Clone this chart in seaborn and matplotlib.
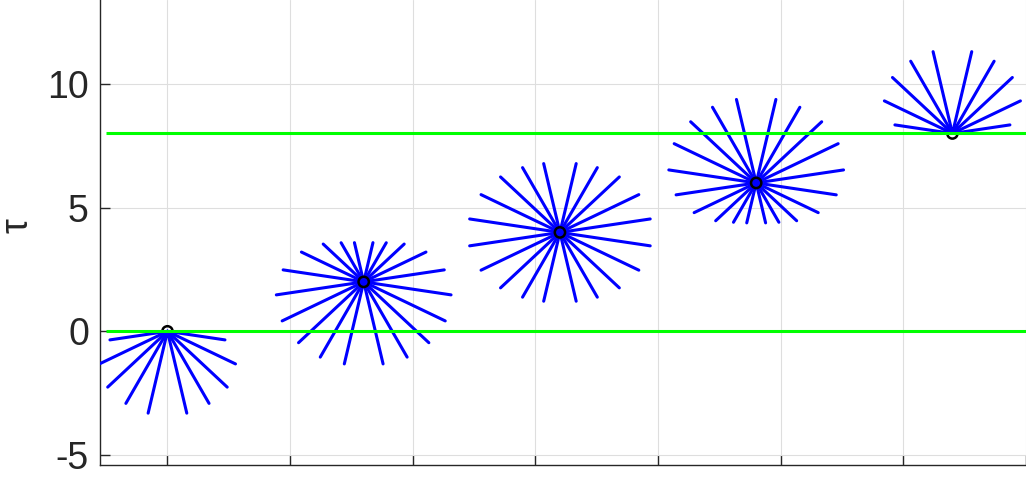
import numpy as np
import pandas as pd
import matplotlib
matplotlib.use("Agg")
import matplotlib.pyplot as plt
import seaborn as sns

# ---- data ----
star_x = [0, 8, 16, 24, 32]          # horizontal position of each star centre
star_tau = [0, 2, 4, 6, 8]           # tau value of each star centre
ray_angles_deg = [8.4, 25.4, 42.8, 59.8, 76.6]   # ray directions (first quadrant, mirrored)
upper_lengths = [
    [0, 0, 0, 0, 0],
    [3.32, 2.81, 2.25, 1.83, 1.63],
    [3.72, 3.56, 3.30, 3.03, 2.86],
    [3.60, 3.70, 3.64, 3.54, 3.47],
    [2.37, 3.07, 3.33, 3.38, 3.40],
]
lower_lengths = [
    [2.37, 3.07, 3.32, 3.37, 3.40],
    [3.60, 3.68, 3.62, 3.52, 3.41],
    [3.72, 3.56, 3.30, 3.03, 2.86],
    [3.30, 2.80, 2.25, 1.84, 1.66],
    [0, 0, 0, 0, 0],
]
bound_levels = [0, 8]
y_ticks = [-5, 0, 5, 10]
x_ticks = [0, 5, 10, 15, 20, 25, 30, 35]

# ---- build ray segments ----
rows = []
rid = 0
for i, (cx, cy) in enumerate(zip(star_x, star_tau)):
    for half, lens in ((1, upper_lengths[i]), (-1, lower_lengths[i])):
        for ang, L in zip(ray_angles_deg, lens):
            if L <= 0:
                continue
            a = np.deg2rad(ang)
            for side in (1, -1):
                rows.append(dict(ray=rid, x=cx, y=cy))
                rows.append(dict(ray=rid, x=cx + side * L * np.cos(a),
                                 y=cy + half * L * np.sin(a)))
                rid += 1
rays = pd.DataFrame(rows)
centres = pd.DataFrame(dict(x=star_x, tau=star_tau))

sns.set_theme(style="white")
plt.rcParams["font.family"] = ["Liberation Sans", "DejaVu Sans"]
plt.rcParams["axes.unicode_minus"] = False

fig = plt.figure(figsize=(10.26, 4.78), dpi=100)
ax = fig.add_axes([100 / 1026, 13 / 478, 926 / 1026, 465 / 478])

sns.lineplot(data=rays, x="x", y="y", units="ray", estimator=None, sort=False,
             color=(0, 0, 1), linewidth=2.2, ax=ax, zorder=3, legend=False)

inner = centres.iloc[1:4]
outer = centres.iloc[[0, 4]]
sns.scatterplot(data=outer, x="x", y="tau", s=55, facecolor="none",
                edgecolor="black", linewidth=1.8, ax=ax, zorder=2)
sns.scatterplot(data=inner, x="x", y="tau", s=55, facecolor="none",
                edgecolor="black", linewidth=1.8, ax=ax, zorder=4)

for lvl in bound_levels:
    ax.hlines(lvl, -2.5, 40, color=(0, 1, 0), linewidth=2.2, zorder=5)

ax.set_xlim(-2.75, 34.75)
ax.set_ylim(-5.404, 13.396)
ax.set_xticks(x_ticks)
ax.set_xticklabels([])
ax.set_yticks(y_ticks)
ax.set_yticklabels([str(v) for v in y_ticks])

ax.grid(True, color="#dedede", linewidth=0.8)
ax.set_axisbelow(True)
for s in ("top", "right"):
    ax.spines[s].set_visible(False)
for s in ("left", "bottom"):
    ax.spines[s].set_color("#262626")
    ax.spines[s].set_linewidth(1.0)
ax.tick_params(axis="both", which="major", direction="in", length=7, width=1.0,
               color="#262626", labelcolor="#262626", labelsize=27,
               bottom=True, left=True, top=False, right=False)
ax.tick_params(axis="y", pad=8)
ax.tick_params(axis="x", pad=4)

ax.set_xlabel("")
ax.set_ylabel("τ", fontsize=27, color="#262626")
ax.yaxis.set_label_coords(-64 / 926, 0.514)

fig.savefig("out.png", dpi=100)
